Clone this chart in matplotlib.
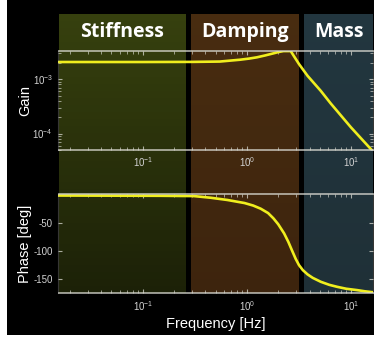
import matplotlib
matplotlib.use("Agg")
import matplotlib.pyplot as plt
import numpy as np
from matplotlib.colors import to_rgb
from matplotlib.patches import Rectangle
from matplotlib.ticker import LogLocator, NullFormatter

plt.rcParams['font.family'] = ['Liberation Sans', 'DejaVu Sans']
plt.rcParams['mathtext.default'] = 'regular'
plt.rcParams['axes.unicode_minus'] = False

# values
freq_gain = [0.0155, 0.1, 0.3, 0.55, 0.862, 1.05, 1.247, 1.5, 1.80, 2.0, 2.25, 2.64, 2.83,
             3.17, 3.83, 5.13, 6.40, 9.98, 16.6]
gain = [2.06e-3, 2.06e-3, 2.07e-3, 2.10e-3, 2.27e-3, 2.38e-3, 2.51e-3, 2.72e-3, 2.97e-3, 3.13e-3,
        3.27e-3, 3.27e-3, 2.65e-3, 1.89e-3, 1.15e-3, 6.09e-4, 3.57e-4, 1.31e-4, 4.53e-5]

freq_phase = [0.0155, 0.15, 0.31, 0.45, 0.65, 0.95, 1.15, 1.36, 1.6, 1.80, 2.0, 2.28, 2.5,
              2.75, 2.95, 3.17, 3.45, 3.83, 4.3, 5.13, 6.2, 7.35, 9.0, 11.5, 13.5, 16.6]
phase = [0.0, -0.5, -1.0, -4.0, -8.0, -13.5, -18.0, -23.7, -31.5, -41.0, -51.5, -68.0, -83.0,
         -101.0, -114.0, -125.0, -134.0, -141.7, -148.0, -155.0, -160.5, -164.0, -167.5,
         -170.0, -172.0, -174.0]

regions = ['Stiffness', 'Damping', 'Mass']
region_lo = [0.0155, 0.293, 3.57]
region_hi = [0.259, 3.18, 16.3]
region_top = ['#36400e', '#482c10', '#22363f']
region_bot = ['#1c2107', '#3d240d', '#1f3037']

xlim = (0.0155, 16.3)
W, H = 374, 343


def frac(x0, y0, x1, y1):
    # pixel box (from top-left) -> figure fraction rect
    return [x0 / W, 1 - y1 / H, (x1 - x0) / W, (y1 - y0) / H]


fig = plt.figure(figsize=(W / 100, H / 100), dpi=100, facecolor='white')
fig.patches.append(Rectangle((7 / W, 8 / H), 1, 1, transform=fig.transFigure,
                             facecolor='black', edgecolor='none', zorder=-10))

# coloured bands behind both panels
bg = fig.add_axes(frac(58.5, 14, 373, 293.3))
bg.set_xscale('log')
bg.set_xlim(*xlim)
bg.set_ylim(0, 1)
bg.axis('off')
n = 40
for name, lo, hi, ct, cb in zip(regions, region_lo, region_hi, region_top, region_bot):
    ct, cb = np.array(to_rgb(ct)), np.array(to_rgb(cb))
    for i in range(n):
        t = i / (n - 1)
        bg.axvspan(lo, hi, ymin=i / n, ymax=(i + 1) / n + 0.002, color=cb + (ct - cb) * t, lw=0)
    xc = np.sqrt(lo * hi)
    bg.text(xc, 0.935, name, ha='center', va='center', color='white', fontsize=14,
            fontweight='bold', family=['Open Sans', 'DejaVu Sans'])

ax1 = fig.add_axes(frac(58.5, 51, 373, 150))
ax2 = fig.add_axes(frac(58.5, 194.3, 373, 293.3))

line_c = '#f0ee1e'
ax1.plot(freq_gain, gain, color=line_c, lw=1.9, solid_joinstyle='round')
ax2.plot(freq_phase, phase, color=line_c, lw=1.9, solid_joinstyle='round')

ax1.set_yscale('log')
ax1.set_ylim(5.0e-5, 3.28e-3)
ax2.set_ylim(-175.7, 2.2)
ax2.set_yticks([-150, -100, -50])

spine_c = (0.85, 0.85, 0.82, 0.75)
for ax in (ax1, ax2):
    ax.set_xscale('log')
    ax.set_xlim(*xlim)
    ax.patch.set_alpha(0)
    ax.xaxis.set_major_locator(LogLocator(base=10))
    ax.xaxis.set_minor_locator(LogLocator(base=10, subs=np.arange(2, 10)))
    ax.xaxis.set_minor_formatter(NullFormatter())
    ax.tick_params(which='both', direction='in', top=True, right=True,
                   colors=spine_c, labelcolor='#d2d2d2', labelsize=7, pad=4)
    ax.tick_params(which='major', length=3, width=0.8)
    ax.tick_params(which='minor', length=2, width=0.6)
    for s in ('top', 'bottom'):
        ax.spines[s].set_color(spine_c)
        ax.spines[s].set_linewidth(1.3)
    for s in ('left', 'right'):
        ax.spines[s].set_color((0.85, 0.85, 0.82, 0.25))
        ax.spines[s].set_linewidth(0.8)

ax1.yaxis.set_minor_formatter(NullFormatter())

ax1.set_ylabel('Gain', color='white', fontsize=10.5)
ax2.set_ylabel('Phase [deg]', color='white', fontsize=10.5)
ax1.yaxis.set_label_coords(-0.085, 0.5)
ax2.yaxis.set_label_coords(-0.085, 0.5)
ax2.set_xlabel('Frequency [Hz]', color='white', fontsize=10.5, labelpad=3)

fig.savefig('out.png', dpi=100, facecolor='white')
